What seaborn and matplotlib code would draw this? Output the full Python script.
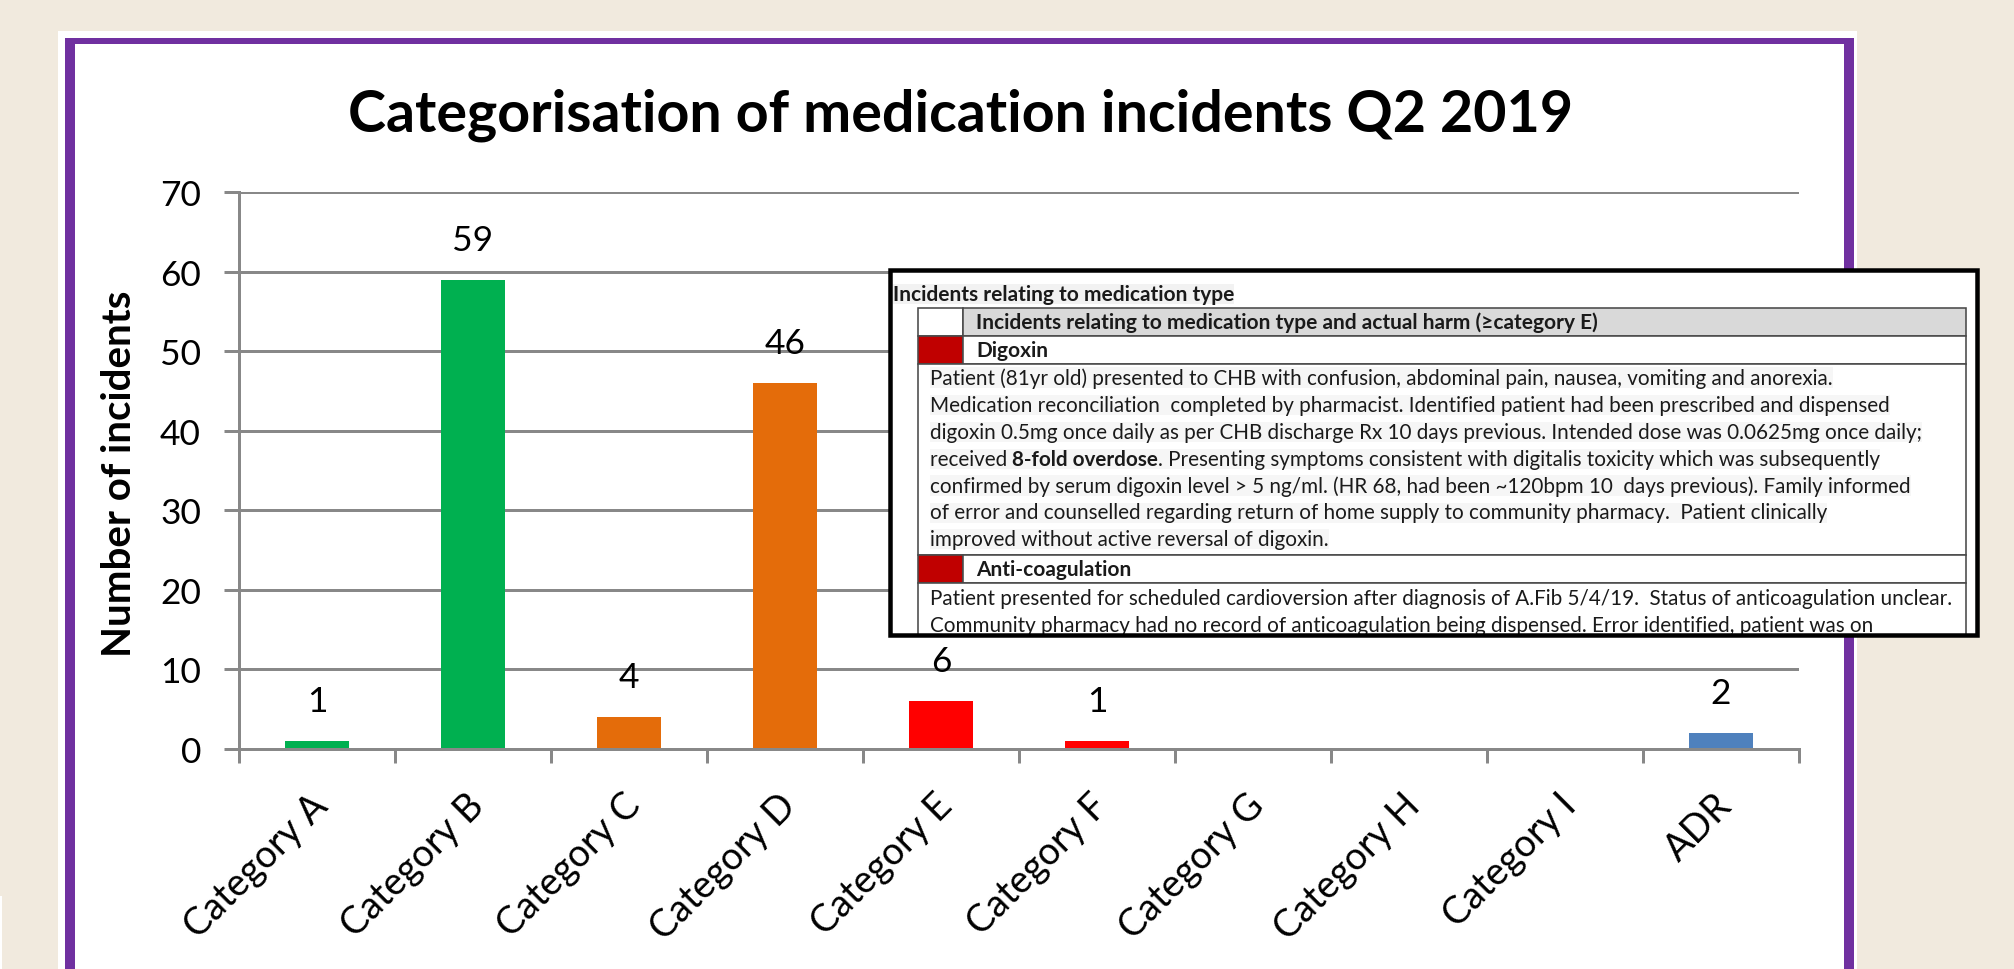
import numpy as np
import pandas as pd
import matplotlib
matplotlib.use("Agg")
import matplotlib.pyplot as plt
import seaborn as sns
from matplotlib.patches import Rectangle
from matplotlib.transforms import ScaledTranslation, blended_transform_factory

# ---------------- data ----------------
categories = ["Category A", "Category B", "Category C", "Category D", "Category E",
              "Category F", "Category G", "Category H", "Category I", "ADR"]
counts = [1, 59, 4, 46, 6, 1, 0, 0, 0, 2]
bar_colors = ["#00B050", "#00B050", "#E46C0A", "#E46C0A", "#FF0000",
              "#FF0000", "#FF0000", "#FF0000", "#FF0000", "#4F81BD"]
y_ticks = [0, 10, 20, 30, 40, 50, 60, 70]
chart_title = "Categorisation of medication incidents Q2 2019"
y_label = "Number of incidents"

table_caption = "Incidents relating to medication type"
table_header = "Incidents relating to medication type and actual harm (\u2265category E)"
section_1 = "Digoxin"
section_1_lines = [
    [("Patient (81yr old) presented to CHB with confusion, abdominal pain, nausea, vomiting and anorexia.", False)],
    [("Medication reconciliation  completed by pharmacist. Identified patient had been prescribed and dispensed", False)],
    [("digoxin 0.5mg once daily as per CHB discharge Rx 10 days previous. Intended dose was 0.0625mg once daily;", False)],
    [("received ", False), ("8-fold overdose", True),
     (". Presenting symptoms consistent with digitalis toxicity which was subsequently", False)],
    [("confirmed by serum digoxin level > 5 ng/ml. (HR 68, had been ~120bpm 10  days previous). Family informed", False)],
    [("of error and counselled regarding return of home supply to community pharmacy.  Patient clinically", False)],
    [("improved without active reversal of digoxin.", False)],
]
section_2 = "Anti-coagulation"
section_2_lines = [
    [("Patient presented for scheduled cardioversion after diagnosis of A.Fib 5/4/19.  Status of anticoagulation unclear.", False)],
    [("Community pharmacy had no record of anticoagulation being dispensed. Error identified, patient was on", False)],
]

# ---------------- style ----------------
W, H, DPI = 2014, 970, 100
PT = 72.0 / DPI
BEIGE = "#F1EADE"
PURPLE = "#7030A0"
GRID = "#888888"
DARKRED = "#C00000"

sns.set_style("white")
plt.rcParams['font.family'] = ['Lato', 'DejaVu Sans']

fig = plt.figure(figsize=(W / DPI, H / DPI), dpi=DPI, facecolor=BEIGE)
renderer = fig.canvas.get_renderer()


def text_width(s, size, weight='normal'):
    t = fig.text(0, 0, s, fontsize=size, fontweight=weight)
    w = t.get_window_extent(renderer).width
    t.remove()
    return w


def fit(s, target, weight='normal', ref=20.0):
    return ref * target / text_width(s, ref, weight)


# ---------------- background panel ----------------
bg = fig.add_axes([0, 0, 1, 1], zorder=0)
bg.set_xlim(0, W)
bg.set_ylim(H, 0)
bg.axis('off')
bg.add_patch(Rectangle((58, 32), 1857 - 58, H, fc='white', ec='none'))
bg.add_patch(Rectangle((65, 39), 1854 - 65, H, fc=PURPLE, ec='none'))
bg.add_patch(Rectangle((75, 45), 1844 - 75, H, fc='white', ec='none'))
bg.add_patch(Rectangle((0, 897), 2, H, fc='white', ec='none'))

# ---------------- main chart ----------------
ax = fig.add_axes([239 / W, 1 - 750 / H, (1799 - 239) / W, (750 - 193) / H], zorder=2)
ax.patch.set_alpha(0)
df = pd.DataFrame({"category": categories, "count": counts})
sns.barplot(data=df, x="category", y="count", hue="category", order=categories,
            hue_order=categories, palette=dict(zip(categories, bar_colors)),
            width=0.405, saturation=1, legend=False, linewidth=0, ax=ax)
ax.set_xlim(-0.5, 9.5)
ax.set_ylim(0, 70)
ax.set_xlabel('')
ax.set_ylabel('')

num_size = 25.5
cat_size = fit("Category A", 186)

ax.set_yticks(y_ticks)
ax.yaxis.grid(True, color=GRID, linewidth=3 * PT)
ax.xaxis.grid(False)
ax.set_axisbelow(True)
for s in ['top', 'right']:
    ax.spines[s].set_visible(False)
for s in ['left', 'bottom']:
    ax.spines[s].set_color(GRID)
    ax.spines[s].set_linewidth(3 * PT)
ax.tick_params(axis='y', length=15 * PT, width=3 * PT, color=GRID, pad=23 * PT,
               labelsize=num_size, labelcolor='black', left=True, direction='out')
ax.set_xticks(range(len(categories)))
ax.set_xticklabels([])
ax.tick_params(axis='x', which='major', length=0)
ax.set_xticks(np.arange(-0.5, len(categories), 1), minor=True)
ax.tick_params(axis='x', which='minor', length=14 * PT, width=3 * PT, color=GRID,
               direction='out', bottom=True)

trans = blended_transform_factory(ax.transData, ax.transAxes) + \
    ScaledTranslation(13 / DPI, -58 / DPI, fig.dpi_scale_trans)
for i, c in enumerate(categories):
    ax.text(i, 0, c, transform=trans, rotation=45, rotation_mode='anchor',
            ha='right', va='baseline', fontsize=cat_size, color='black', clip_on=False)

for i, v in enumerate(counts):
    if v > 0:
        ax.annotate(str(v), (i, v), xytext=(0, 30 * PT), textcoords='offset points',
                    ha='center', va='baseline', fontsize=num_size, color='black')

title_size = fit(chart_title, 1225, 'bold')
fig.text(960.5 / W, 1 - 132 / H, chart_title, ha='center', va='baseline',
         fontsize=title_size, fontweight='bold', color='black')

ylab_size = fit(y_label, 367, 'bold')
fig.text(131 / W, 1 - 473.5 / H, y_label, rotation=90, rotation_mode='anchor',
         ha='center', va='baseline', fontsize=ylab_size, fontweight='bold', color='black')

# ---------------- inset table ----------------
ov = fig.add_axes([0, 0, 1, 1], zorder=3)
ov.set_xlim(0, W)
ov.set_ylim(H, 0)
ov.axis('off')
ov.patch.set_alpha(0)

BX0, BY0, BX1, BY1 = 889.5, 270.5, 1977, 636
ov.add_patch(Rectangle((BX0, BY0), BX1 - BX0, BY1 - BY0, fc='white', ec='none', zorder=1))
clip = Rectangle((BX0, BY0), BX1 - BX0, BY1 - BY0, transform=ov.transData, fill=False)

LINE = "#4a4a4a"
LW = 1.6 * PT
TX0, TC, TX1 = 918, 963, 1966


def cell(x0, y0, x1, y1, fc):
    r = Rectangle((x0, y0), x1 - x0, y1 - y0, fc=fc, ec=LINE, lw=LW, zorder=2)
    ov.add_patch(r)
    r.set_clip_path(clip)


cell(TX0, 309, TC, 337, 'white')
cell(TC, 309, TX1, 337, '#D9D9D9')
cell(TX0, 337, TC, 365, DARKRED)
cell(TC, 337, TX1, 365, 'white')
cell(TX0, 365, TX1, 556, 'white')
cell(TX0, 556, TC, 584, DARKRED)
cell(TC, 556, TX1, 584, 'white')
cell(TX0, 584, TX1, 700, 'white')

TEXTC = "#1a1a1a"
body_size = fit(section_1_lines[0][0][0], 905)
head_size = fit(table_header, 620, 'bold')
cap_size = fit(table_caption, 341, 'bold')


def put(x, y, s, size, bold=False, band=None):
    kw = dict(fontsize=size, fontweight='bold' if bold else 'normal', color=TEXTC,
              ha='left', va='baseline', zorder=4)
    if band:
        kw['bbox'] = dict(facecolor=band, edgecolor='none', pad=0.0)
    t = ov.text(x, y, s, **kw)
    t.set_clip_path(clip)
    return t


put(893, 301, table_caption, cap_size, True, band='#F2F2F2')
put(976, 329, table_header, head_size, True)
put(976, 357, section_1, head_size, True)
put(976, 576, section_2, head_size, True)


def put_line(x, y, segs, band='#F6F6F6'):
    for s, b in segs:
        put(x, y, s, body_size, b, band=band)
        w = text_width(s + "|", body_size, 'bold' if b else 'normal') - \
            text_width("|", body_size, 'bold' if b else 'normal')
        x += w


for k, segs in enumerate(section_1_lines):
    put_line(930, 385 + 26.9 * k, segs)
for k, segs in enumerate(section_2_lines):
    put_line(930, 605 + 27 * k, segs, band=None)

ov.add_patch(Rectangle((BX0, BY0), BX1 - BX0, BY1 - BY0, fill=False, ec='black',
                       lw=4.5 * PT, zorder=6))

fig.savefig("out.png", dpi=DPI, facecolor=BEIGE)
